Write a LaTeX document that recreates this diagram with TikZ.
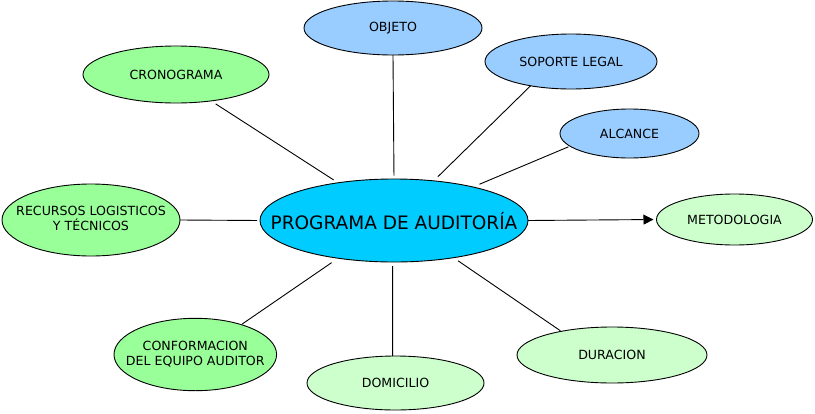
\documentclass[tikz,border=0pt]{standalone}
\usepackage{fontspec}
\setmainfont{DejaVu Sans}
\usetikzlibrary{shapes.geometric,arrows.meta}
\definecolor{cblue}{HTML}{99CCFF}
\definecolor{ccyan}{HTML}{00CCFF}
\definecolor{cgreen}{HTML}{99FF99}
\definecolor{clight}{HTML}{CCFFCC}
\tikzset{
  bub/.style={ellipse, draw=black, line width=0.9pt, inner sep=0pt, outer sep=0pt},
  txt/.style={font=\fontsize{12.6}{15}\selectfont, text=black, align=center},
  conn/.style={draw=black, line width=0.9pt},
}
\begin{document}
\begin{tikzpicture}[x=1pt,y=-1pt]
\useasboundingbox (0,0) rectangle (815,413);
% central
\node[bub, fill=ccyan, minimum width=268pt, minimum height=83pt,
  label={[txt, font=\fontsize{18.5}{22}\selectfont, yshift=-1pt]center:PROGRAMA DE AUDITORÍA}] (prog) at (394,220.5) {};
% blue
\node[bub, fill=cblue, minimum width=178pt, minimum height=54pt,
  label={[txt]center:OBJETO}] (obj) at (393,28) {};
\node[bub, fill=cblue, minimum width=172pt, minimum height=55pt,
  label={[txt]center:SOPORTE LEGAL}] (sop) at (571,61.5) {};
\node[bub, fill=cblue, minimum width=139pt, minimum height=49pt,
  label={[txt]center:ALCANCE}] (alc) at (629.5,133.5) {};
% bright green
\node[bub, fill=cgreen, minimum width=186pt, minimum height=57pt,
  label={[txt]center:CRONOGRAMA}] (cron) at (176,74.5) {};
\node[bub, fill=cgreen, minimum width=178pt, minimum height=72pt,
  label={[txt, yshift=1.5pt]center:RECURSOS LOGISTICOS\\Y TÉCNICOS}] (rec) at (91,220) {};
\node[bub, fill=cgreen, minimum width=162.6pt, minimum height=72.4pt,
  label={[txt]center:CONFORMACION\\DEL EQUIPO AUDITOR}] (conf) at (195.3,354.5) {};
% light green
\node[bub, fill=clight, minimum width=156pt, minimum height=51pt,
  label={[txt]center:METODOLOGIA}] (met) at (734.5,219.5) {};
\node[bub, fill=clight, minimum width=177pt, minimum height=54pt,
  label={[txt]center:DOMICILIO}] (dom) at (395.5,383) {};
\node[bub, fill=clight, minimum width=190pt, minimum height=56pt,
  label={[txt]center:DURACION}] (dur) at (612,355) {};
% connectors
\draw[conn, shorten <=5.5pt, shorten >=5.3pt] (cron.-37.7) -- (prog.146.4);
\draw[conn, shorten >=3.5pt] (obj.south) -- (prog.north);
\draw[conn, shorten >=5.9pt] (sop.211) -- (prog.45.5);
\draw[conn, shorten <=1.7pt, shorten >=7pt] (alc.192.4) -- (prog.23.6);
\draw[conn, shorten >=3pt] (rec.east) -- (prog.west);
\draw[conn, -{Triangle[length=10pt,width=10pt]}, shorten >=3pt] (prog.east) -- (met.west);
\draw[conn, shorten <=1pt, shorten >=7.8pt] (conf.33.3) -- (prog.214.4);
\draw[conn, shorten >=4pt] (dom.96) -- (prog.268.6);
\draw[conn, shorten <=1pt, shorten >=5.6pt] (dur.155.3) -- (prog.-32.3);
\end{tikzpicture}
\end{document}
